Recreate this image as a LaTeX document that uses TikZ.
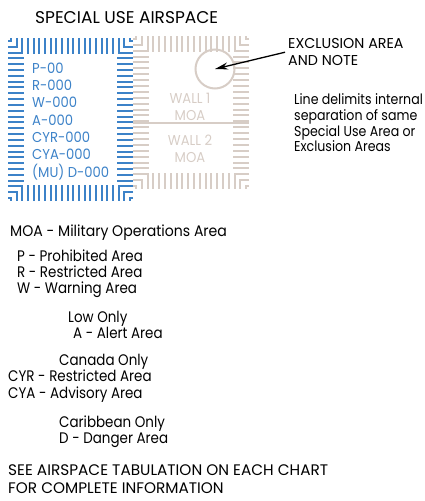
\documentclass[tikz,border=0pt]{standalone}
\usepackage{fontspec}
\setmainfont{Poppins}[FakeStretch=0.88]
\newfontfamily\capsfont{Poppins}
\newfontfamily\labelfont{Poppins}[FakeStretch=0.92]
\usepackage{xcolor}
\definecolor{suablue}{RGB}{60, 130, 200}
\definecolor{wallgrey}{RGB}{215, 205, 198}
\usepackage{tikz}
\usetikzlibrary{
    arrows.meta,
    positioning
}
\tikzstyle{legend} = [
    inner sep=0pt,
    anchor=base west,
    align=left,
    font=\fontsize{15.3}{16}\selectfont
]
\tikzstyle{notetext} = [
    inner sep=0pt,
    anchor=base west,
    align=left,
    font=\fontsize{14.3}{15.6}\selectfont
]
\tikzstyle{arrow} = [
    line width=1.3pt,
    -{Stealth[length=13pt,width=7pt]}
]
% hatched frame: x0, y0, x1, y1, colour
\newcommand{\hatchframe}[5]{%
    \pgfmathsetmacro{\hbNx}{round((#3-#1)/5.8)}
    \pgfmathsetmacro{\hbNy}{round((#4-#2)/5.8)}
    \pgfmathsetmacro{\hbSx}{(#3-#1)/\hbNx}
    \pgfmathsetmacro{\hbSy}{(#4-#2)/\hbNy}
    \pgfmathtruncatemacro{\hbEx}{\hbNx-4}
    \pgfmathtruncatemacro{\hbEy}{\hbNy-4}
    \begin{scope}[draw=#5, line width=2pt]
    % corners
    \foreach \k in {0,1,2}{
        \pgfmathsetmacro{\hbDx}{(\k+0.5)*\hbSx}
        \pgfmathsetmacro{\hbDy}{(\k+0.5)*\hbSy}
        \draw ({#1},{#2+\hbDy}) -- ({#1+\hbDx},{#2+\hbDy}) -- ({#1+\hbDx},{#2});
        \draw ({#3},{#2+\hbDy}) -- ({#3-\hbDx},{#2+\hbDy}) -- ({#3-\hbDx},{#2});
        \draw ({#1},{#4-\hbDy}) -- ({#1+\hbDx},{#4-\hbDy}) -- ({#1+\hbDx},{#4});
        \draw ({#3},{#4-\hbDy}) -- ({#3-\hbDx},{#4-\hbDy}) -- ({#3-\hbDx},{#4});
    }
    % top and bottom
    \foreach \k in {3,...,\hbEx}{
        \draw ({#1+(\k+0.5)*\hbSx},{#2}) -- ++(0,16);
        \draw ({#1+(\k+0.5)*\hbSx},{#4}) -- ++(0,-16);
    }
    % left and right
    \foreach \k in {3,...,\hbEy}{
        \draw ({#1},{#2+(\k+0.5)*\hbSy}) -- ++(16,0);
        \draw ({#3},{#2+(\k+0.5)*\hbSy}) -- ++(-16,0);
    }
    \end{scope}}

\begin{document}
\begin{tikzpicture}[x=1pt, y=-1pt]
\useasboundingbox (0,0) rectangle (425,501);

\node (title) [inner sep=0pt, anchor=base west, font=\capsfont\fontsize{17}{18}\selectfont]
    at (35,23) {SPECIAL USE AIRSPACE};

% wall MOA frame
\hatchframe{133}{36}{249}{189}{wallgrey}
\draw [wallgrey, line width=2.5pt] (133,123) -- (249,123);
\node (excl) [circle, draw=wallgrey, line width=2pt, minimum size=39pt, inner sep=0pt]
    at (215,69) {};
\node (wall1) [notetext, anchor=base, align=center, text=wallgrey, font=\labelfont\fontsize{14.3}{17}\selectfont]
    at (190,120) {WALL 1\\MOA};
\node (wall2) [notetext, anchor=base, align=center, text=wallgrey, font=\labelfont\fontsize{14.3}{17}\selectfont]
    at (190,162) {WALL 2\\MOA};

% special use frame
\hatchframe{8}{38}{133}{201}{suablue}
\node (sua) [notetext, text=suablue, font=\labelfont\fontsize{14.3}{17.3}\selectfont]
    at (32,177) {P-00\\R-000\\W-000\\A-000\\CYR-000\\CYA-000\\(MU) D-000};

% notes
\node (note) [notetext, font=\capsfont\fontsize{14.3}{17}\selectfont]
    at (288,65) {EXCLUSION AREA\\AND NOTE};
\node (linenote) [notetext]
    at (294,151.7) {Line delimits internal\\separation of same\\Special Use Area or\\Exclusion Areas};
\draw [arrow, shorten <=3pt] (note.west) -- (excl.center);

% legend
\node (moa) [legend, font=\labelfont\fontsize{15.3}{16}\selectfont] at (10,236) {MOA - Military Operations Area};
\node (prw) [legend] at (17,293.5) {P - Prohibited Area\\R - Restricted Area\\W - Warning Area};
\node (lowonly) [legend] at (68,338) {Low Only\\\hspace*{5pt}A - Alert Area};
\node (canada) [legend, font=\fontsize{15.3}{16.5}\selectfont] at (8,398) {\hspace*{51pt}Canada Only\\CYR - Restricted Area\\CYA - Advisory Area};
\node (carib) [legend] at (59,443) {Caribbean Only\\D - Danger Area};
\node (seetab) [legend, font=\capsfont\fontsize{15.3}{18}\selectfont]
    at (8,493) {SEE AIRSPACE TABULATION ON EACH CHART\\FOR COMPLETE INFORMATION};

\end{tikzpicture}
\end{document}
